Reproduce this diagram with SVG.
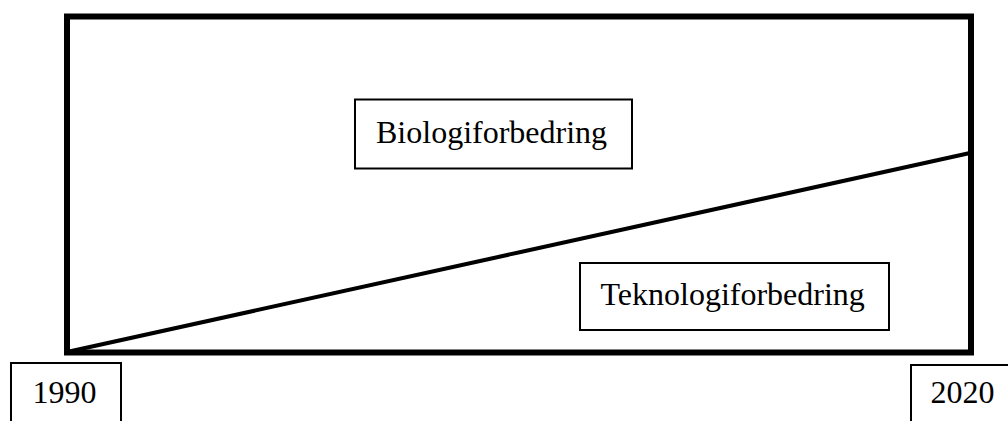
<svg xmlns="http://www.w3.org/2000/svg" width="1008" height="421" viewBox="0 0 1008 421">
<style>
.box{fill:#fff;stroke:#000;stroke-width:2}
.t{font-family:"Liberation Serif","Times New Roman",serif;font-size:32px;fill:#000}
</style>
<rect width="1008" height="421" fill="#fff"/>
<g id="frame"><rect x="67" y="16.5" width="904" height="336" fill="none" stroke="#000" stroke-width="6"/></g>
<g id="connectors"><line x1="67" y1="352" x2="970" y2="153" stroke="#000" stroke-width="4"/></g>
<g id="bio"><rect class="box" x="355" y="99.5" width="277" height="69"/><text class="t" x="376" y="143">Biologiforbedring</text></g>
<g id="tek"><rect class="box" x="580" y="263" width="309" height="67"/><text class="t" x="600.5" y="305">Teknologiforbedring</text></g>
<g id="y1990"><rect class="box" x="11" y="363" width="110" height="70"/><text class="t" x="32.5" y="403">1990</text></g>
<g id="y2020"><rect class="box" x="911" y="365" width="110" height="70"/><text class="t" x="930.5" y="403">2020</text></g>
</svg>
